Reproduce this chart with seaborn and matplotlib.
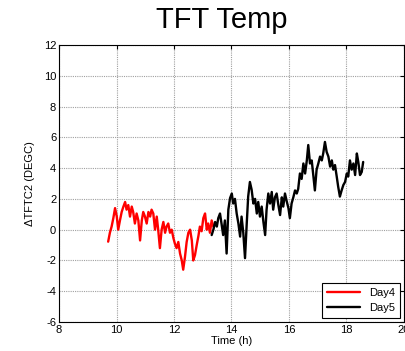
import numpy as np
import pandas as pd
import matplotlib
matplotlib.use('Agg')
import matplotlib.pyplot as plt
import seaborn as sns

# Day4 readings (red)
day4_time = [9.71, 9.77, 9.83, 9.89, 9.95, 10.01, 10.06, 10.12, 10.18, 10.24,
             10.30, 10.35, 10.41, 10.47, 10.53, 10.58, 10.64, 10.70, 10.76, 10.82,
             10.88, 10.93, 10.99, 11.05, 11.11, 11.17, 11.22, 11.28, 11.34, 11.40,
             11.45, 11.51, 11.57, 11.63, 11.69, 11.74, 11.80, 11.86, 11.92, 11.98,
             12.03, 12.09, 12.15, 12.21, 12.27, 12.32, 12.38, 12.44, 12.50, 12.56,
             12.62, 12.67, 12.73, 12.79, 12.85, 12.90, 12.96, 13.02, 13.08, 13.14,
             13.19, 13.25, 13.31, 13.37]
day4_temp = [-0.78, -0.2, 0.2, 0.75, 1.4, 0.85, 0.0, 0.6, 1.15, 1.5,
             1.8, 1.3, 1.6, 0.85, 1.5, 1.15, 0.4, 1.05, 0.6, -0.7,
             0.6, 1.15, 0.85, 0.4, 1.15, 0.85, 1.3, 1.05, 0.0, 0.85,
             0.0, -1.2, 0.0, 0.5, -0.2, 0.2, 0.4, -0.2, 0.0, -0.55,
             -0.9, -1.2, -0.8, -1.55, -2.0, -2.6, -1.8, -0.8, -0.2, 0.0,
             -0.7, -2.0, -1.65, -1.0, -0.4, 0.2, -0.1, 0.75, 1.05, 0.0,
             0.4, -0.2, 0.6, 0.2]

# Day5 readings (black)
day5_time = [13.31, 13.37, 13.43, 13.49, 13.54, 13.60, 13.66, 13.71, 13.77, 13.83,
             13.89, 13.95, 14.01, 14.06, 14.12, 14.18, 14.24, 14.30, 14.35, 14.41,
             14.47, 14.53, 14.58, 14.64, 14.70, 14.76, 14.82, 14.88, 14.93, 14.99,
             15.05, 15.11, 15.17, 15.22, 15.28, 15.34, 15.40, 15.45, 15.51, 15.57,
             15.63, 15.69, 15.75, 15.80, 15.86, 15.92, 15.98, 16.03, 16.09, 16.15,
             16.21, 16.27, 16.32, 16.38, 16.44, 16.50, 16.56, 16.62, 16.67, 16.73,
             16.79, 16.85, 16.90, 16.96, 17.02, 17.08, 17.14, 17.19, 17.25, 17.31,
             17.37, 17.43, 17.49, 17.54, 17.60, 17.66, 17.71, 17.77, 17.83, 17.89,
             17.95, 18.01, 18.06, 18.12, 18.18, 18.24, 18.30, 18.36, 18.41, 18.47,
             18.53, 18.58]
day5_temp = [-0.35, 0.0, 0.5, 0.2, 0.75, 1.05, 0.3, -0.35, 0.6, -1.55,
             1.3, 2.05, 2.35, 1.7, 2.0, 1.05, 0.4, -0.45, 0.85, -0.2,
             -1.85, 0.4, 2.15, 3.1, 2.6, 1.7, 2.0, 1.05, 1.8, 0.85,
             1.5, 0.5, -0.35, 1.3, 2.35, 1.7, 2.45, 1.3, 2.1, 2.35,
             1.6, 0.95, 2.1, 1.5, 2.35, 1.85, 1.4, 0.75, 1.7, 2.1,
             2.55, 2.35, 2.65, 3.65, 3.3, 4.3, 3.65, 4.5, 5.5, 4.3,
             4.5, 3.45, 2.55, 3.9, 4.3, 4.75, 4.5, 4.95, 5.7, 5.05,
             4.75, 4.1, 4.5, 3.9, 4.2, 3.45, 2.8, 2.15, 2.55, 2.9,
             3.1, 3.65, 3.45, 4.5, 3.9, 4.3, 3.55, 4.95, 4.4, 3.55,
             3.75, 4.4]

df = pd.concat([
    pd.DataFrame({'time': day4_time, 'temp': day4_temp, 'day': 'Day4'}),
    pd.DataFrame({'time': day5_time, 'temp': day5_temp, 'day': 'Day5'}),
])

sns.set_style('white')
plt.rcParams['font.family'] = ['Liberation Sans', 'DejaVu Sans']
plt.rcParams['axes.unicode_minus'] = False
plt.rcParams['text.color'] = 'black'
plt.rcParams['axes.labelcolor'] = 'black'
plt.rcParams['xtick.color'] = 'black'
plt.rcParams['ytick.color'] = 'black'

fig = plt.figure(figsize=(4.06, 3.51), dpi=100)
ax = fig.add_axes([59 / 406, 29 / 351, 345 / 406, 277 / 351])

sns.lineplot(data=df, x='time', y='temp', hue='day', palette={'Day4': 'red', 'Day5': 'black'},
             estimator=None, sort=False, linewidth=1.7, ax=ax)

ax.set_xlim(8, 20)
ax.set_ylim(-6, 12)
ax.set_xticks(np.arange(8, 21, 2))
ax.set_yticks(np.arange(-6, 13, 2))
ax.grid(True, color='#a0a0a0', linestyle=(0, (1, 1)), linewidth=0.8)
ax.tick_params(direction='in', top=True, right=True, length=3, labelsize=8, pad=2, width=0.8)
for s in ax.spines.values():
    s.set_color('black')
    s.set_linewidth(0.8)

ax.set_xlabel('Time (h)', fontsize=8, labelpad=1)
ax.set_ylabel('ΔTFTC2 (DEGC)', fontsize=8, labelpad=6)
fig.text(222 / 406, 1 - 28 / 351, 'TFT Temp', fontsize=21, ha='center', va='baseline')

leg = ax.legend(loc='lower right', fontsize=8, frameon=True, fancybox=False,
                edgecolor='black', borderaxespad=0.4, handlelength=3, framealpha=1)
leg.get_frame().set_linewidth(0.8)

fig.savefig('out.png', dpi=100)
